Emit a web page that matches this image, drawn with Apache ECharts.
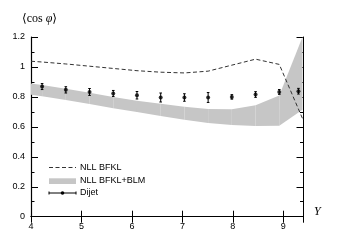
<!DOCTYPE html>
<html>
<head>
<meta charset="utf-8">
<script src="https://cdn.jsdelivr.net/npm/echarts@6/dist/echarts.min.js"></script>
<style>html,body{margin:0;padding:0;background:#fff}#c{width:338px;height:244px}</style>
</head>
<body>
<div id="c"></div>
<script>
// Data
var dijetY = [4.22, 4.69, 5.16, 5.63, 6.10, 6.57, 7.04, 7.51, 7.98, 8.45, 8.92, 9.30];
var dijetVal = [0.869, 0.847, 0.833, 0.823, 0.811, 0.796, 0.796, 0.796, 0.800, 0.816, 0.833, 0.838];
var dijetErr = [0.020, 0.021, 0.023, 0.020, 0.025, 0.030, 0.025, 0.033, 0.015, 0.019, 0.016, 0.019];

var curveY = [4.0, 4.22, 4.69, 5.16, 5.63, 6.10, 6.57, 7.04, 7.51, 7.98, 8.45, 8.92, 9.38];
var nllVal = [1.038, 1.033, 1.020, 1.005, 0.990, 0.975, 0.965, 0.960, 0.972, 1.012, 1.052, 1.017, 0.656];
var blmUpper = [0.889, 0.880, 0.855, 0.828, 0.800, 0.775, 0.755, 0.735, 0.720, 0.718, 0.745, 0.810, 1.200];
var blmLower = [0.815, 0.805, 0.780, 0.752, 0.725, 0.700, 0.672, 0.648, 0.625, 0.612, 0.605, 0.607, 0.715];

var xTicks = [4, 5, 6, 7, 8, 9];

var chart = echarts.init(document.getElementById('c'), null, {renderer: 'canvas'});
var FONT = 'Liberation Sans, Arial, Helvetica, sans-serif';
var SERIF = 'Liberation Serif, DejaVu Serif, Times New Roman, serif';
var GRAY = '#c6c6c6';

function zip(a, b) { return a.map(function (v, i) { return [v, b[i]]; }); }

var bandData = curveY.map(function (x, i) { return [x, blmLower[i], blmUpper[i]]; });
var errData = dijetY.map(function (x, i) { return [x, dijetVal[i], dijetErr[i]]; });

var baseX = {
  type: 'value', min: 4, max: 9.4, interval: 1,
  splitLine: {show: false},
  axisLine: {show: true, lineStyle: {color: '#000', width: 1.2}},
  axisTick: {show: true, inside: true, length: 6, lineStyle: {color: '#000', width: 1}},
  axisLabel: {show: true, margin: 5, fontSize: 9, color: '#000', fontFamily: FONT, showMaxLabel: false,
    formatter: function (v) { return xTicks.indexOf(v) >= 0 ? String(v) : ''; }}
};
var baseY = {
  type: 'value', min: 0, max: 1.2, interval: 0.2,
  splitLine: {show: false},
  axisLine: {show: true, lineStyle: {color: '#000', width: 1.2}},
  axisTick: {show: true, inside: true, length: 7, lineStyle: {color: '#000', width: 1}},
  minorTick: {show: true, splitNumber: 2, length: 3.5, lineStyle: {color: '#000', width: 1}},
  axisLabel: {show: true, margin: 6, fontSize: 9, color: '#000', fontFamily: FONT}
};

var option = {
  animation: false,
  backgroundColor: '#fff',
  grid: {left: 31, right: 34.5, top: 37, bottom: 27.3},
  xAxis: [
    baseX,
    echarts.util.merge(echarts.util.clone(baseX), {position: 'top', axisLine: {lineStyle: {width: 1}}, axisLabel: {show: false}}, true)
  ],
  yAxis: [
    baseY,
    echarts.util.merge(echarts.util.clone(baseY), {position: 'right', axisLine: {lineStyle: {width: 1}}, axisLabel: {show: false}}, true)
  ],
  series: [
    {
      name: 'NLL BFKL+BLM', type: 'custom', xAxisIndex: 0, yAxisIndex: 0, z: 1,
      data: bandData,
      renderItem: function (params, api) {
        var i = params.dataIndex;
        if (i >= bandData.length - 1) return null;
        var n = bandData[i + 1];
        var p1 = api.coord([api.value(0), api.value(2)]);
        var p2 = api.coord([n[0], n[2]]);
        var p3 = api.coord([n[0], n[1]]);
        var p4 = api.coord([api.value(0), api.value(1)]);
        return {type: 'polygon', shape: {points: [p1, p2, p3, p4]}, style: {fill: GRAY}};
      }
    },
    {
      name: 'NLL BFKL', type: 'line', z: 3, data: zip(curveY, nllVal),
      symbol: 'none', lineStyle: {color: '#333', width: 1, type: [4, 2.5]}
    },
    {
      name: 'Dijet', type: 'custom', z: 4, data: errData,
      renderItem: function (params, api) {
        var x = api.value(0), y = api.value(1), e = api.value(2);
        var top = api.coord([x, y + e]);
        var bot = api.coord([x, y - e]);
        var c = 1.3;
        return {type: 'group', children: [
          {type: 'line', shape: {x1: top[0], y1: top[1], x2: bot[0], y2: bot[1]}, style: {stroke: '#000', lineWidth: 1}},
          {type: 'line', shape: {x1: top[0] - c, y1: top[1], x2: top[0] + c, y2: top[1]}, style: {stroke: '#000', lineWidth: 1}},
          {type: 'line', shape: {x1: bot[0] - c, y1: bot[1], x2: bot[0] + c, y2: bot[1]}, style: {stroke: '#000', lineWidth: 1}}
        ]};
      }
    },
    {
      name: 'Dijet points', type: 'scatter', z: 5, data: zip(dijetY, dijetVal),
      symbol: 'circle', symbolSize: 4, itemStyle: {color: '#000'}
    }
  ],
  graphic: [
    {type: 'text', left: 22, top: 13, style: {text: '{n|⟨cos }{i|φ}{n|⟩}', rich: {
      n: {fontFamily: SERIF, fontSize: 12, fill: '#000'},
      i: {fontFamily: SERIF, fontSize: 12, fontStyle: 'italic', fill: '#000'}}}},
    {type: 'text', left: 314, top: 206, style: {text: 'Y', fontFamily: SERIF, fontStyle: 'italic', fontSize: 12, fill: '#000'}},
    {type: 'line', shape: {x1: 49, y1: 167.5, x2: 76, y2: 167.5}, style: {stroke: '#333', lineWidth: 1, lineDash: [4, 2.5]}},
    {type: 'text', x: 80, y: 167.5, style: {text: 'NLL BFKL', fontFamily: FONT, fontSize: 9, fill: '#000', verticalAlign: 'middle'}},
    {type: 'rect', shape: {x: 49, y: 178.3, width: 27, height: 5.7}, style: {fill: GRAY}},
    {type: 'text', x: 80, y: 181, style: {text: 'NLL BFKL+BLM', fontFamily: FONT, fontSize: 9, fill: '#000', verticalAlign: 'middle'}},
    {type: 'line', shape: {x1: 49, y1: 193, x2: 76, y2: 193}, style: {stroke: '#000', lineWidth: 1}},
    {type: 'line', shape: {x1: 49, y1: 191.5, x2: 49, y2: 194.5}, style: {stroke: '#000', lineWidth: 1}},
    {type: 'line', shape: {x1: 76, y1: 191.5, x2: 76, y2: 194.5}, style: {stroke: '#000', lineWidth: 1}},
    {type: 'circle', shape: {cx: 62.5, cy: 193, r: 1.8}, style: {fill: '#000'}},
    {type: 'text', x: 80, y: 193, style: {text: 'Dijet', fontFamily: FONT, fontSize: 9, fill: '#000', verticalAlign: 'middle'}}
  ]
};
chart.setOption(option);
</script>
</body>
</html>
